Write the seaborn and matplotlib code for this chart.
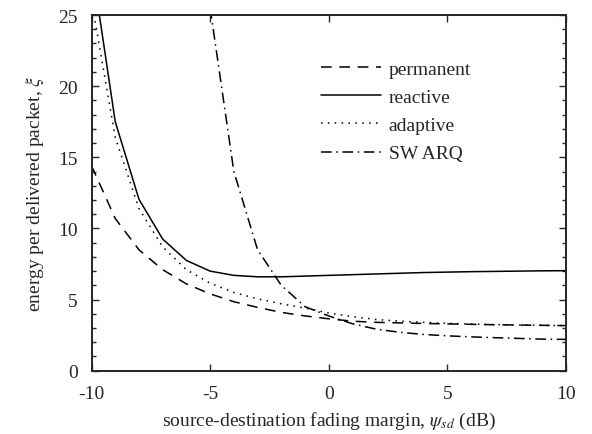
import numpy as np
import pandas as pd
import matplotlib
matplotlib.use("Agg")
import matplotlib.pyplot as plt
import seaborn as sns
from matplotlib.ticker import MultipleLocator

x_db = list(range(-10, 11))
permanent = [14.4, 10.7, 8.5, 7.1, 6.1, 5.4, 4.85, 4.45, 4.1, 3.85, 3.65,
             3.48, 3.4, 3.36, 3.32, 3.29, 3.26, 3.23, 3.21, 3.19, 3.17]
reactive = [28.7, 17.5, 12.05, 9.25, 7.75, 7.0, 6.7, 6.6, 6.6, 6.65, 6.7,
            6.75, 6.8, 6.85, 6.9, 6.93, 6.96, 6.98, 7.0, 7.02, 7.03]
adaptive = [26.0, 16.4, 11.4, 8.7, 7.1, 6.15, 5.5, 5.05, 4.7, 4.4, 4.05,
            3.8, 3.6, 3.48, 3.4, 3.33, 3.28, 3.24, 3.21, 3.19, 3.17]
sw_x = [-5, -4, -3, -2, -1, 0, 1, 2, 3, 4, 5, 6, 7, 8, 9, 10]
sw_arq = [25.5, 14.0, 8.5, 6.0, 4.5, 3.85, 3.3, 2.92, 2.7, 2.55, 2.45,
          2.38, 2.32, 2.27, 2.22, 2.2]

series_names = ["permanent", "reactive", "adaptive", "SW ARQ"]

frames = []
for name, xs, ys in [("permanent", x_db, permanent), ("reactive", x_db, reactive),
                     ("adaptive", x_db, adaptive), ("SW ARQ", sw_x, sw_arq)]:
    frames.append(pd.DataFrame({"x": xs, "y": ys, "series": name}))
df = pd.concat(frames, ignore_index=True)

sns.set_style("ticks")
plt.rcParams["font.family"] = ["Liberation Serif", "DejaVu Serif"]
plt.rcParams["mathtext.fontset"] = "stix"

fig = plt.figure(figsize=(5.92, 4.35), dpi=100)
ax = fig.add_axes([0.1546, 0.1455, 0.8014, 0.8177])

dashes = {"permanent": (7, 5), "reactive": "", "adaptive": (1, 3.5),
          "SW ARQ": (7, 3, 1, 3)}
sns.lineplot(data=df, x="x", y="y", style="series", style_order=series_names,
             dashes=dashes, color="black", linewidth=1.1, ax=ax, sort=False,
             estimator=None)

ax.set_xlim(-10, 10)
ax.set_ylim(0, 25)
ax.set_xticks([-10, -5, 0, 5, 10])
ax.set_xticklabels(["-10", "-5", "0", "5", "10"])
ax.set_yticks([0, 5, 10, 15, 20, 25])
ax.yaxis.set_minor_locator(MultipleLocator(1))
ax.tick_params(which="both", direction="in", top=True, right=True,
               labelsize=14, width=1.0)
ax.tick_params(which="major", length=5)
ax.tick_params(axis="x", which="major", pad=10)
ax.tick_params(axis="y", which="major", pad=10)
ax.tick_params(which="minor", length=3)
for s in ax.spines.values():
    s.set_linewidth(1.4)
    s.set_visible(True)

ax.set_xlabel(r"source-destination fading margin, $\psi_{sd}$ (dB)", fontsize=14, labelpad=6)
ax.set_ylabel(r"energy per delivered packet, $\xi$", fontsize=14, labelpad=9)

handles, labels = ax.get_legend_handles_labels()
if ax.get_legend() is not None:
    ax.get_legend().remove()
ax.legend(handles, labels, loc="upper left", bbox_to_anchor=(0.454, 0.912),
          frameon=False, fontsize=14, handlelength=3.1, handletextpad=0.4,
          labelspacing=0.55, borderaxespad=0.3)

fig.savefig("out.png", dpi=100)
